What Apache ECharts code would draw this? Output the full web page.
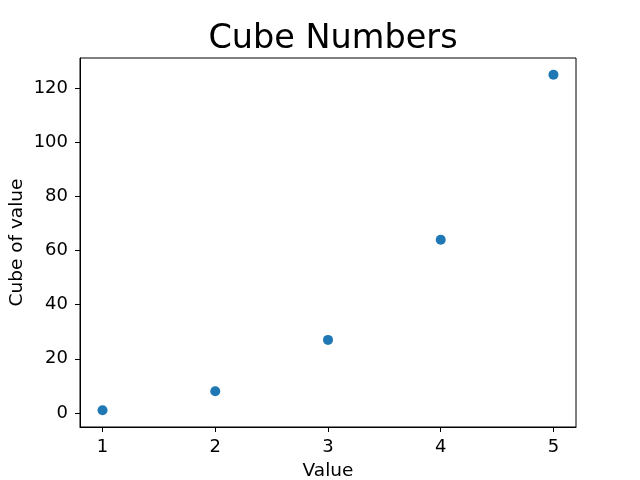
<!DOCTYPE html>
<html>
<head>
<meta charset="utf-8">
<script src="https://cdn.jsdelivr.net/npm/echarts@6/dist/echarts.min.js"></script>
<style>
html, body { margin: 0; padding: 0; background: #fff; }
#chart { width: 640px; height: 480px; }
</style>
</head>
<body>
<div id="chart"></div>
<script>
// data
var values = [1, 2, 3, 4, 5];
var cubes = [1, 8, 27, 64, 125];
var xTicks = [1, 2, 3, 4, 5];
var yTicks = [0, 20, 40, 60, 80, 100, 120];

var points = [];
for (var i = 0; i < values.length; i++) {
    points.push([values[i], cubes[i]]);
}

var font = 'DejaVu Sans';
var mychart = echarts.init(document.getElementById('chart'));
var option = {
    animation: false,
    title: {
        text: 'Cube Numbers',
        left: 328,
        textAlign: 'center',
        top: 17,
        textStyle: { fontFamily: font, fontSize: 33.5, fontWeight: 'normal', color: '#000' }
    },
    grid: {
        left: 80, right: 64, top: 58, bottom: 53,
        outerBoundsMode: 'none',
        containLabel: false,
        show: true, borderColor: '#000', borderWidth: 1
    },
    xAxis: {
        type: 'value',
        min: 0.8, max: 5.2,
        name: 'Value',
        nameLocation: 'middle',
        nameGap: 35,
        nameMoveOverlap: false,
        nameTextStyle: { fontFamily: font, fontSize: 18.5, color: '#000' },
        splitLine: { show: false },
        axisLine: { show: true, onZero: false, lineStyle: { color: '#000', width: 1 } },
        axisTick: { show: true, length: 5, customValues: xTicks, lineStyle: { color: '#000' } },
        axisLabel: { customValues: xTicks, margin: 11, fontFamily: font, fontSize: 18, color: '#000' }
    },
    yAxis: {
        type: 'value',
        min: -5.2, max: 131.2,
        name: 'Cube of value',
        nameLocation: 'middle',
        nameGap: 53,
        nameMoveOverlap: false,
        nameTextStyle: { fontFamily: font, fontSize: 18.5, color: '#000' },
        splitLine: { show: false },
        axisLine: { show: true, onZero: false, lineStyle: { color: '#000', width: 1 } },
        axisTick: { show: true, length: 5, customValues: yTicks, lineStyle: { color: '#000' } },
        axisLabel: { customValues: yTicks, margin: 12, fontFamily: font, fontSize: 18, color: '#000' }
    },
    series: [
        {
            type: 'scatter',
            data: points,
            symbolSize: 10,
            itemStyle: { color: '#1f77b4', opacity: 1 }
        }
    ]
};
mychart.setOption(option);
</script>
</body>
</html>
